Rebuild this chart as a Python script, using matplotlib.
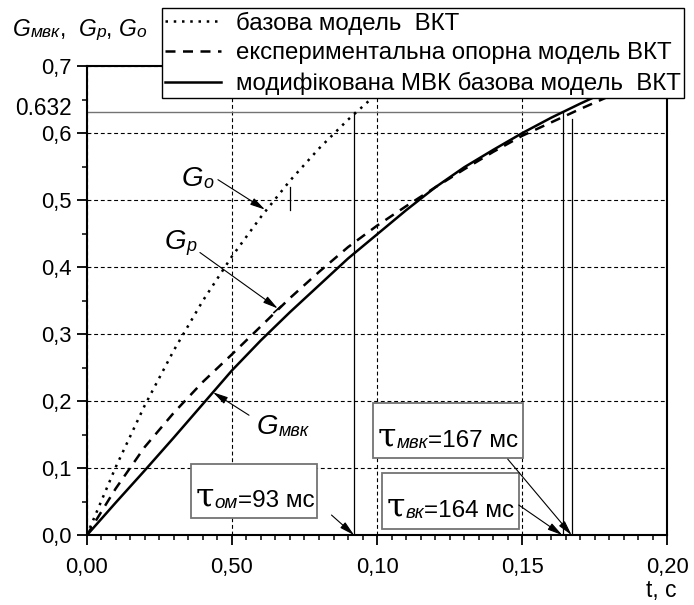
import matplotlib
matplotlib.use('Agg')
import matplotlib.pyplot as plt
from matplotlib.ticker import MultipleLocator, FixedLocator
from matplotlib.patches import Rectangle
from matplotlib.transforms import IdentityTransform

plt.rcParams['font.family'] = ['Liberation Sans', 'DejaVu Sans']

# ---------------- data ----------------
t = [0.00, 0.01, 0.02, 0.03, 0.04, 0.05, 0.06, 0.07, 0.08, 0.09, 0.10,
     0.11, 0.12, 0.13, 0.14, 0.15, 0.16, 0.17, 0.18, 0.19, 0.20]
g_o = [0.000, 0.102, 0.194, 0.276, 0.350, 0.416, 0.475, 0.529, 0.577,
       0.620, 0.659, 0.694, 0.725]
g_p = [0.000, 0.070, 0.132, 0.183, 0.229, 0.270, 0.312, 0.354, 0.393,
       0.430, 0.462, 0.491, 0.519, 0.546, 0.572, 0.596, 0.616, 0.636,
       0.655, 0.673, 0.690]
g_mvk = [0.000, 0.049, 0.097, 0.146, 0.196, 0.246, 0.291, 0.333, 0.373,
         0.413, 0.449, 0.485, 0.519, 0.549, 0.575, 0.600, 0.623, 0.644,
         0.664, 0.682, 0.699]
series_labels = ['базова модель  ВКТ',
                 'експериментальна опорна модель ВКТ',
                 'модифікована МВК базова модель  ВКТ']
level = 0.632
tau_lines = [0.092, 0.164, 0.167]
tau_tops = [0.632, 0.632, 0.621]
x_ticks = [0.00, 0.05, 0.10, 0.15, 0.20]
x_tick_labels = ['0,00', '0,50', '0,10', '0,15', '0,20']
y_ticks = [0.0, 0.1, 0.2, 0.3, 0.4, 0.5, 0.6, 0.7]
y_tick_labels = ['0,0', '0,1', '0,2', '0,3', '0,4', '0,5', '0,6', '0,7']

# ---------------- figure ----------------
fig = plt.figure(figsize=(6.94, 6.05), dpi=100)
ax = fig.add_axes([0.1249, 0.1149, 0.8369, 0.7760])
ax.set_xlim(0, 0.2)
ax.set_ylim(0, 0.7)

l1, = ax.plot(t[:len(g_o)], g_o, color='black', lw=1.8,
              linestyle=(0, (1, 2.3)), zorder=3)
l2, = ax.plot(t, g_p, color='black', lw=1.8, linestyle=(0, (4, 3)), zorder=3)
l3, = ax.plot(t, g_mvk, color='black', lw=1.8, zorder=3)

# reference lines
ax.plot([0, tau_lines[1]], [level, level], color='0.45', lw=1.0, zorder=2)
for xv, top in zip(tau_lines, tau_tops):
    ax.plot([xv, xv], [0, top], color='black', lw=0.9, zorder=2)

# ticks & grid
ax.xaxis.set_major_locator(FixedLocator(x_ticks))
ax.set_xticklabels(x_tick_labels)
ax.yaxis.set_major_locator(FixedLocator(y_ticks))
ax.set_yticklabels(y_tick_labels)
ax.xaxis.set_minor_locator(MultipleLocator(0.005))
ax.yaxis.set_minor_locator(MultipleLocator(0.05))
ax.tick_params(which='major', direction='out', length=7.2, width=1.3,
               labelsize=15.8)
ax.tick_params(which='minor', direction='out', length=3.6, width=1.1)
ax.tick_params(axis='x', which='major', pad=8)
ax.tick_params(axis='y', which='major', pad=3.5)
ax.grid(True, which='major', color='black', lw=0.8,
        linestyle=(0, (3.5, 2.5)))
ax.set_axisbelow(True)
for sp in ax.spines.values():
    sp.set_linewidth(1.5)

ax.annotate('0.632', xy=(0, level), xycoords=('axes fraction', 'data'),
            xytext=(-10.8, 2), textcoords='offset points', ha='right',
            va='center', fontsize=16.3,
            bbox=dict(facecolor='white', edgecolor='none', pad=0))

# legend
leg = fig.legend([l1, l2, l3], series_labels, loc='upper left',
                 bbox_to_anchor=(0.2334, 0.9868),
                 bbox_transform=fig.transFigure, fontsize=17.3, frameon=True,
                 fancybox=False, edgecolor='black', framealpha=1,
                 borderpad=0.14, labelspacing=0.32, handlelength=2.3,
                 handletextpad=0.62, borderaxespad=0)
leg.get_frame().set_linewidth(1.0)

# boxes for tau labels
boxes = [(0.0359, 0.026, 0.0434, 0.0804),
         (0.0985, 0.1153, 0.0517, 0.0819),
         (0.1016, 0.0097, 0.0472, 0.0833)]
for (bx, by, bw, bh) in boxes:
    ax.add_patch(Rectangle((bx, by), bw, bh, facecolor='white',
                           edgecolor='0.45', lw=1.3, zorder=4))

# arrows
arrow_kw = dict(arrowstyle='-|>,head_length=0.6,head_width=0.15',
                color='black', lw=0.8, mutation_scale=15,
                shrinkA=0, shrinkB=0)
arrows = [((0.0452, 0.5305), (0.0614, 0.4859)),
          ((0.0390, 0.4219), (0.0658, 0.3385)),
          ((0.0559, 0.1793), (0.0435, 0.2135)),
          ((0.0843, 0.0305), (0.0921, 0.0005)),
          ((0.1450, 0.1138), (0.1670, 0.0005)),
          ((0.1488, 0.0454), (0.1638, 0.0005))]
for tail, tip in arrows:
    ax.annotate('', xy=tip, xytext=tail, arrowprops=arrow_kw, zorder=5)
# small marks
ax.plot([0.0700, 0.0700], [0.486, 0.520], color='black', lw=0.9, zorder=5)
ax.plot([0.0645, 0.0668], [0.3325, 0.3415], color='black', lw=1.2, zorder=5)

# ---------------- rich text ----------------
fig.canvas.draw()
renderer = fig.canvas.get_renderer()


def rich(x, y, pieces, data=True):
    if data:
        X, Y = ax.transData.transform((x, y))
    else:
        X, Y = x, y
    for s, kw, dy in pieces:
        txt = fig.text(X, Y + dy, s, transform=IdentityTransform(),
                       ha='left', va='baseline', zorder=6, **kw)
        bb = txt.get_window_extent(renderer)
        X = bb.x1


it_big = dict(fontsize=20, style='italic')
it_sub = dict(fontsize=13, style='italic')
rich(0.0328, 0.5216, [('G', it_big, 0), ('o', it_sub, -2)])
rich(0.0270, 0.4278, [('G', it_big, 0), ('p', it_sub, -2)])
rich(0.0586, 0.1510, [('G', it_big, 0), ('мвк', it_sub, -2)])

tau_kw = dict(fontsize=24, family='DejaVu Serif')
sub_kw = dict(fontsize=13.5, style='italic')
num_kw = dict(fontsize=17.5)
rich(0.0376, 0.0429, [('τ', tau_kw, 0), ('ом', sub_kw, -1), ('=93 мс', num_kw, 0)])
rich(0.1003, 0.1320, [('τ', tau_kw, 0), ('мвк', sub_kw, -1), ('=167 мс', num_kw, 0)])
rich(0.1034, 0.0280, [('τ', tau_kw, 0), ('вк', sub_kw, -1), ('=164 мс', num_kw, 0)])

ylab_big = dict(fontsize=16.5, style='italic')
ylab_sub = dict(fontsize=12.5, style='italic')
ylab_n = dict(fontsize=16.5)
rich(13, 605 - 36, [('G', ylab_big, 0), ('мвк', ylab_sub, -1), (',  ', ylab_n, 0),
                    ('G', ylab_big, 0), ('p', ylab_sub, -1), (', ', ylab_n, 0),
                    ('G', ylab_big, 0), ('o', ylab_sub, -1)], data=False)

fig.text(677 / 694, 1 - 597 / 605, 't, c', ha='right', va='baseline',
         fontsize=16.5)

fig.savefig('out.png', dpi=100)
